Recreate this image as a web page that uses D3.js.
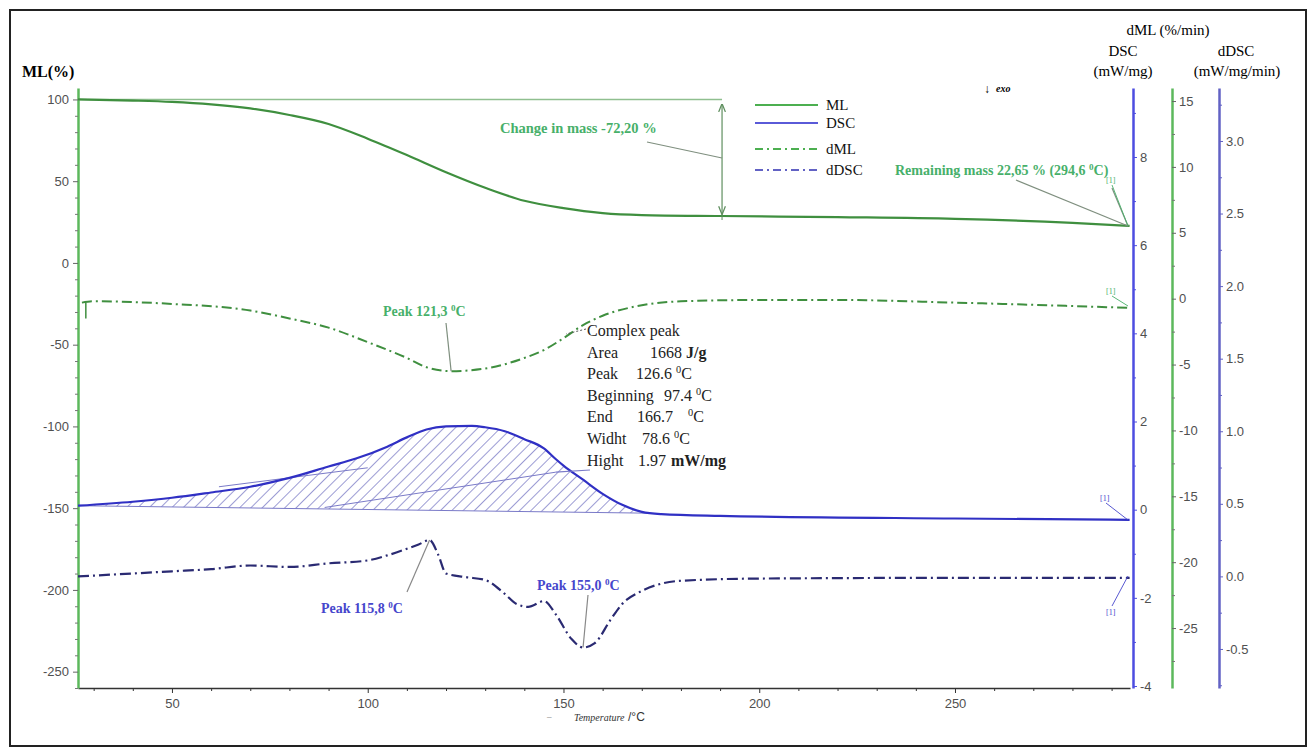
<!DOCTYPE html>
<html>
<head>
<meta charset="utf-8">
<script src="https://cdn.jsdelivr.net/npm/d3@7"></script>
<style>
  body { margin: 0; background: #fff; }
  svg text { font-family: "Liberation Serif", "Times New Roman", serif; }
  .tick text { font-family: "Liberation Sans", Arial, sans-serif; font-size: 13px; fill: #505050; }
</style>
</head>
<body>
<div id="chart"></div>
<script>
// ---- data ----

// ML (%) - mass loss
const mlTemp = [26, 40, 50, 60, 70, 80, 90, 100, 110, 120, 130, 140, 150, 160, 170, 190, 220, 250, 280, 294.6];
const mlVal  = [100, 99.3, 98.5, 97, 94.5, 90.5, 85, 76, 66, 55.5, 46, 38, 33.5, 30.5, 29.3, 28.7, 28, 27, 24.5, 22.65];

// dML (%/min)
const dmlTemp = [27, 30, 50, 70, 80, 90, 100, 110, 115, 121.3, 130, 140, 145, 150, 155, 160, 170, 180, 200, 220, 250, 294.6];
const dmlVal  = [-0.3, -0.2, -0.4, -0.9, -1.5, -2.2, -3.3, -4.5, -5.2, -5.5, -5.3, -4.5, -3.9, -3.0, -2.0, -1.3, -0.5, -0.2, -0.1, -0.1, -0.3, -0.7];

// DSC (mW/mg)
const dscTemp = [26, 40, 50, 60, 70, 80, 90, 97, 105, 110, 115, 120, 126.6, 130, 135, 140, 145, 148, 150, 155, 160, 165, 170, 175, 190, 250, 294.6];
const dscVal  = [0.09, 0.18, 0.27, 0.39, 0.52, 0.72, 0.98, 1.16, 1.43, 1.64, 1.82, 1.89, 1.9, 1.87, 1.78, 1.6, 1.39, 1.15, 1.0, 0.68, 0.36, 0.11, -0.05, -0.1, -0.14, -0.2, -0.23];

// dDSC (mW/mg/min)
const ddscTemp = [26, 40, 50, 60, 70, 80, 90, 100, 105, 110, 113, 115.8, 118, 120, 125, 130, 135, 138, 141, 145, 148, 152, 155, 158, 162, 165, 170, 175, 180, 200, 250, 294.6];
const ddscVal  = [0.0, 0.02, 0.035, 0.05, 0.075, 0.065, 0.09, 0.11, 0.145, 0.19, 0.22, 0.25, 0.15, 0.02, -0.005, -0.025, -0.12, -0.19, -0.21, -0.17, -0.26, -0.43, -0.49, -0.46, -0.3, -0.19, -0.1, -0.05, -0.03, -0.015, -0.01, -0.01];

// axis ticks
const xTicks = [50, 100, 150, 200, 250];
const mlTicks = [100, 50, 0, -50, -100, -150, -200, -250];
const dscTicks = [8, 6, 4, 2, 0, -2, -4];
const dmlTicks = [15, 10, 5, 0, -5, -10, -15, -20, -25];
const ddscTicks = [3.0, 2.5, 2.0, 1.5, 1.0, 0.5, 0.0, -0.5];

const legendItems = ["ML", "DSC", "dML", "dDSC"];
const peakLines = ["Complex peak", "Area", "Peak", "Beginning", "End", "Widht", "Hight"];

// ---- styles ----
const W = 1316, H = 751;
const cML = "#3f8f3f", cMLaxis = "#5cb85c", cDSC = "#3030c4", cDSCaxis = "#4d4de0";
const cDDSC = "#2a2a72", cDDSCaxis = "#6262c4", cGreenTxt = "#47b06a", cBlueTxt = "#4646cc";

const svg = d3.select("#chart").append("svg").attr("width", W).attr("height", H);

// frame
svg.append("rect").attr("x", 10).attr("y", 10).attr("width", 1296).attr("height", 736)
  .attr("fill", "none").attr("stroke", "#222").attr("stroke-width", 2);

// scales
const x = d3.scaleLinear().domain([26, 294.7]).range([78, 1130]);
const yML = d3.scaleLinear().domain([-260, 107]).range([688, 88]);
const yDSC = d3.scaleLinear().domain([-4.045, 9.565]).range([688, 88]);
const yDML = d3.scaleLinear().domain([-29.55, 15.99]).range([688, 88]);
const yDDSC = d3.scaleLinear().domain([-0.769, 3.365]).range([688, 88]);

// ---- axes ----
function minorAxis(axisFn, scale, values, size, color, tx, ty) {
  const g = svg.append("g").attr("transform", `translate(${tx},${ty})`)
    .call(axisFn(scale).tickValues(values).tickSize(size).tickFormat("").tickSizeOuter(0));
  g.select(".domain").remove();
  g.selectAll("line").attr("stroke", color);
}

// bottom
const gx = svg.append("g").attr("transform", "translate(0,688)")
  .call(d3.axisBottom(x).tickValues(xTicks).tickSize(5).tickSizeOuter(0).tickPadding(6));
gx.select(".domain").attr("stroke", "#333").attr("stroke-width", 1.5);
gx.selectAll(".tick line").attr("stroke", "#333");
minorAxis(d3.axisBottom, x, d3.range(30, 295, 10).filter(v => v % 50 !== 0), 3, "#333", 0, 688);

// left ML
const gl = svg.append("g").attr("transform", "translate(78,0)")
  .call(d3.axisLeft(yML).tickValues(mlTicks).tickSize(5).tickSizeOuter(0).tickPadding(4).tickFormat(d => String(d)));
gl.select(".domain").attr("stroke", cMLaxis).attr("stroke-width", 2.5);
gl.selectAll(".tick line").attr("stroke", "#666");
minorAxis(d3.axisLeft, yML, d3.range(-260, 101, 10).filter(v => v % 50 !== 0), 3, "#777", 78, 0);

// right DSC
const gd = svg.append("g").attr("transform", "translate(1133,0)")
  .call(d3.axisRight(yDSC).tickValues(dscTicks).tickSize(4).tickSizeOuter(0).tickPadding(3).tickFormat(d => String(d)));
gd.select(".domain").attr("stroke", cDSCaxis).attr("stroke-width", 2.5);
gd.selectAll(".tick line").attr("stroke", cDSCaxis);
minorAxis(d3.axisRight, yDSC, [9, 7, 5, 3, 1, -1, -3], 3, cDSCaxis, 1133, 0);

// right dML
const gm = svg.append("g").attr("transform", "translate(1172,0)")
  .call(d3.axisRight(yDML).tickValues(dmlTicks).tickSize(4).tickSizeOuter(0).tickPadding(3).tickFormat(d => String(d)));
gm.select(".domain").attr("stroke", cMLaxis).attr("stroke-width", 2.5);
gm.selectAll(".tick line").attr("stroke", "#666");
minorAxis(d3.axisRight, yDML, [12.5, 7.5, 2.5, -2.5, -7.5, -12.5, -17.5, -22.5, -27.5], 3, "#777", 1172, 0);

// right dDSC
const gdd = svg.append("g").attr("transform", "translate(1219,0)")
  .call(d3.axisRight(yDDSC).tickValues(ddscTicks).tickSize(4).tickSizeOuter(0).tickPadding(3).tickFormat(d => d.toFixed(1)));
gdd.select(".domain").attr("stroke", cDDSCaxis).attr("stroke-width", 2.5);
gdd.selectAll(".tick line").attr("stroke", cDDSCaxis);
minorAxis(d3.axisRight, yDDSC, [3.25, 2.75, 2.25, 1.75, 1.25, 0.75, 0.25, -0.25, -0.75], 3, cDDSCaxis, 1219, 0);

// axis titles
svg.append("text").attr("x", 22).attr("y", 77).attr("font-size", 16).attr("font-weight", "bold").text("ML(%)");
svg.append("text").attr("x", 1168).attr("y", 35).attr("font-size", 15).attr("text-anchor", "middle").text("dML (%/min)");
svg.append("text").attr("x", 1123).attr("y", 56).attr("font-size", 15).attr("text-anchor", "middle").text("DSC");
svg.append("text").attr("x", 1123).attr("y", 76).attr("font-size", 15).attr("text-anchor", "middle").text("(mW/mg)");
svg.append("text").attr("x", 1236).attr("y", 56).attr("font-size", 15).attr("text-anchor", "middle").text("dDSC");
svg.append("text").attr("x", 1237).attr("y", 76).attr("font-size", 15).attr("text-anchor", "middle").text("(mW/mg/min)");
svg.append("text").attr("x", 547).attr("y", 719).attr("font-size", 9).attr("fill", "#666").text("\u2013");
svg.append("text").attr("x", 574).attr("y", 721).attr("font-size", 10).attr("font-style", "italic")
  .attr("fill", "#333").text("Temperature");
svg.append("text").attr("x", 628).attr("y", 721).attr("font-size", 12).attr("fill", "#333")
  .style("font-family", "Liberation Sans, Arial, sans-serif").text("/°C");
svg.append("text").attr("x", 984).attr("y", 93).attr("font-size", 12).text("\u2193");
svg.append("text").attr("x", 996).attr("y", 92).attr("font-size", 10).attr("font-style", "italic")
  .attr("font-weight", "bold").text("exo");

// ---- curves ----
const zip = (a, b) => a.map((t, i) => [t, b[i]]);
const lineFor = ys => d3.line().x(d => x(d[0])).y(d => ys(d[1])).curve(d3.curveMonotoneX);

// hatched area under the DSC peak
const defs = svg.append("defs");
const pat = defs.append("pattern").attr("id", "hatch").attr("patternUnits", "userSpaceOnUse")
  .attr("width", 8).attr("height", 8).attr("patternTransform", "rotate(45)");
pat.append("line").attr("x1", 0).attr("y1", 0).attr("x2", 0).attr("y2", 8)
  .attr("stroke", "#4848b0").attr("stroke-width", 1.1);

const baseT0 = 26, baseV0 = 0.09, baseT1 = 172, baseV1 = -0.08;
const baseAt = t => baseV0 + (baseV1 - baseV0) * (t - baseT0) / (baseT1 - baseT0);
const dscPts = zip(dscTemp, dscVal);
const peakPts = dscPts.filter(d => d[0] <= baseT1);
peakPts.push([baseT1, baseAt(baseT1)]);
svg.append("path").datum(peakPts)
  .attr("d", d3.area().x(d => x(d[0])).y0(d => yDSC(baseAt(d[0]))).y1(d => yDSC(d[1])).curve(d3.curveMonotoneX))
  .attr("fill", "url(#hatch)").attr("stroke", "none");
svg.append("line").attr("x1", x(baseT0)).attr("y1", yDSC(baseV0)).attr("x2", x(baseT1)).attr("y2", yDSC(baseV1))
  .attr("stroke", "#7a7ac8").attr("stroke-width", 1);
// height / sigmoid helper lines
svg.append("line").attr("x1", x(89)).attr("y1", yDSC(0.05)).attr("x2", x(148)).attr("y2", yDSC(0.85))
  .attr("stroke", "#7a7ac8").attr("stroke-width", 1);
svg.append("line").attr("x1", x(62)).attr("y1", yDSC(0.52)).attr("x2", x(100)).attr("y2", yDSC(0.95))
  .attr("stroke", "#7a7ac8").attr("stroke-width", 1);

// reference line at 100 %
svg.append("line").attr("x1", x(26)).attr("x2", x(190.5)).attr("y1", yML(100)).attr("y2", yML(100))
  .attr("stroke", "#8fbf8f").attr("stroke-width", 1.5);

svg.append("path").datum(zip(mlTemp, mlVal)).attr("d", lineFor(yML))
  .attr("fill", "none").attr("stroke", cML).attr("stroke-width", 2.2);
svg.append("path").datum(zip(dmlTemp, dmlVal)).attr("d", lineFor(yDML))
  .attr("fill", "none").attr("stroke", cML).attr("stroke-width", 2).attr("stroke-dasharray", "10,4,2,4");
svg.append("line").attr("x1", x(28)).attr("x2", x(28)).attr("y1", yDML(-0.3)).attr("y2", yDML(-1.5))
  .attr("stroke", cML).attr("stroke-width", 1.5);
svg.append("path").datum(dscPts).attr("d", lineFor(yDSC))
  .attr("fill", "none").attr("stroke", cDSC).attr("stroke-width", 2.2);
svg.append("path").datum(zip(ddscTemp, ddscVal)).attr("d", lineFor(yDDSC))
  .attr("fill", "none").attr("stroke", cDDSC).attr("stroke-width", 2.2).attr("stroke-dasharray", "11,4,2,4");

// ---- annotations ----
function degText(g, xx, yy, pre, post, color, size, bold) {
  const t = g.append("text").attr("x", xx).attr("y", yy).attr("font-size", size)
    .attr("fill", color).attr("font-weight", bold ? "bold" : null);
  t.append("tspan").text(pre);
  t.append("tspan").attr("font-size", size * 0.65).attr("dy", -size * 0.38).text("0");
  t.append("tspan").attr("dy", size * 0.38).text("C" + (post || ""));
  return t;
}
const leader = (x1, y1, x2, y2, c) => svg.append("line").attr("x1", x1).attr("y1", y1)
  .attr("x2", x2).attr("y2", y2).attr("stroke", c || "#7f8f7f").attr("stroke-width", 1.2);

// change in mass
const xArrow = x(190.5);
defs.append("marker").attr("id", "arr").attr("viewBox", "0 0 10 10").attr("refX", 9).attr("refY", 5)
  .attr("markerWidth", 7).attr("markerHeight", 7).attr("orient", "auto-start-reverse")
  .append("path").attr("d", "M0,1 L10,5 L0,9").attr("fill", "none").attr("stroke", "#5f8f5f").attr("stroke-width", 1.5);
svg.append("line").attr("x1", xArrow).attr("x2", xArrow).attr("y1", yML(97)).attr("y2", yML(30))
  .attr("stroke", "#5f8f5f").attr("stroke-width", 1.2)
  .attr("marker-start", "url(#arr)").attr("marker-end", "url(#arr)");
svg.append("line").attr("x1", xArrow).attr("x2", xArrow).attr("y1", yML(28.7) - 4).attr("y2", yML(28.7) + 4)
  .attr("stroke", "#5f8f5f");
svg.append("text").attr("x", 500).attr("y", 133).attr("font-size", 14.5).attr("font-weight", "bold")
  .attr("fill", cGreenTxt).text("Change in mass -72,20 %");
leader(647, 142, xArrow, 158);

// remaining mass
degText(svg, 895, 175, "Remaining mass 22,65 % (294,6 ", ")", cGreenTxt, 14, true);
leader(1016, 180, 1128, 226);
leader(1112, 188, 1128, 226);

// small [1] markers
[[1106, 183, cGreenTxt, 1128, 226], [1106, 294, cGreenTxt, 1128, 306],
 [1100, 501, cBlueTxt, 1128, 520], [1106, 615, cBlueTxt, 1128, 576]].forEach(m => {
  svg.append("text").attr("x", m[0]).attr("y", m[1]).attr("font-size", 8).attr("fill", m[2]).text("[1]");
  leader(m[0] + 6, m[1] + (m[4] > m[1] ? 2 : -9), m[3], m[4], m[2]).attr("stroke-width", 0.9);
});

// dML peak
degText(svg, 383, 316, "Peak 121,3 ", "", cGreenTxt, 14, true);
leader(446, 323, x(121.3), yDML(-5.5));

// DSC peak table
const tb = svg.append("g").attr("font-size", 16).attr("fill", "#222");
const rowY = d3.range(peakLines.length).map(i => 336 + i * 21.6);
peakLines.forEach((s, i) => tb.append("text").attr("x", 587).attr("y", rowY[i]).attr("fill", "#222").text(s));
tb.append("text").attr("x", 650).attr("y", rowY[1]).text("1668");
tb.append("text").attr("x", 686).attr("y", rowY[1]).attr("font-weight", "bold").text("J/g");
degText(tb, 636, rowY[2], "126.6 ", "", "#222", 16, false);
degText(tb, 664, rowY[3], "97.4 ", "", "#222", 16, false);
tb.append("text").attr("x", 637).attr("y", rowY[4]).text("166.7");
degText(tb, 688, rowY[4], "", "", "#222", 16, false);
degText(tb, 642, rowY[5], "78.6 ", "", "#222", 16, false);
tb.append("text").attr("x", 638).attr("y", rowY[6]).text("1.97");
tb.append("text").attr("x", 671).attr("y", rowY[6]).attr("font-weight", "bold").text("mW/mg");
svg.append("line").attr("x1", 586).attr("y1", 329).attr("x2", 566).attr("y2", 334)
  .attr("stroke", "#555").attr("stroke-width", 1).attr("stroke-dasharray", "2,2");
leader(590, 470, x(148), yDSC(0.85), "#7a7ac8");

// dDSC peaks
degText(svg, 321, 613, "Peak 115,8 ", "", cBlueTxt, 14, true);
leader(407, 592, x(115.8), yDDSC(0.25), "#888");
degText(svg, 537, 590, "Peak 155,0 ", "", cBlueTxt, 14, true);
leader(588, 595, x(155), yDDSC(-0.49), "#888");

// ---- legend ----
const lg = svg.append("g").attr("font-size", 15);
const legStyle = [
  { c: "#4caf50", dash: null, y: 105 },
  { c: "#5a5ad8", dash: null, y: 123 },
  { c: "#4caf50", dash: "8,4,2,4", y: 149 },
  { c: "#6262c4", dash: "8,4,2,4", y: 170 }
];
legendItems.forEach((name, i) => {
  const s = legStyle[i];
  lg.append("line").attr("x1", 755).attr("x2", 818).attr("y1", s.y).attr("y2", s.y)
    .attr("stroke", s.c).attr("stroke-width", 2).attr("stroke-dasharray", s.dash);
  lg.append("text").attr("x", 826).attr("y", s.y + 5).attr("fill", "#111").text(name);
});
</script>
</body>
</html>
